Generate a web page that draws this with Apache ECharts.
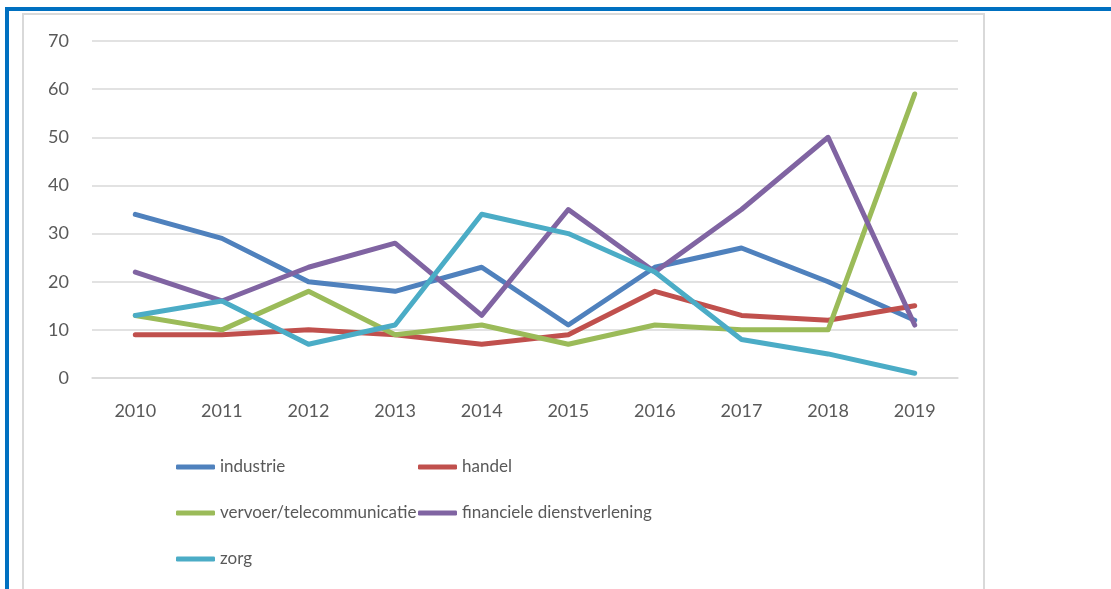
<!DOCTYPE html>
<html>
<head>
<meta charset="utf-8">
<script src="https://cdn.jsdelivr.net/npm/echarts@6/dist/echarts.min.js"></script>
<style>
  html, body { margin: 0; padding: 0; background: #fff; overflow: hidden; }
  #frame { position: absolute; left: 5px; top: 7px; width: 1200px; height: 700px;
           border-top: 4px solid #0070C0; border-left: 4px solid #0070C0; box-sizing: border-box; }
  #inner { position: absolute; left: 22px; top: 13px; width: 963px; height: 700px;
           border: 2px solid #D9D9D9; border-bottom: none; box-sizing: border-box; }
  #chart { position: absolute; left: 0; top: 0; width: 1111px; height: 589px; }
</style>
</head>
<body>
<div id="frame"></div>
<div id="inner"></div>
<div id="chart"></div>
<script>
const years = ['2010','2011','2012','2013','2014','2015','2016','2017','2018','2019'];
const industrie = [34, 29, 20, 18, 23, 11, 23, 27, 20, 12];
const handel = [9, 9, 10, 9, 7, 9, 18, 13, 12, 15];
const vervoer = [13, 10, 18, 9, 11, 7, 11, 10, 10, 59];
const financiele = [22, 16, 23, 28, 13, 35, 22, 35, 50, 11];
const zorg = [13, 16, 7, 11, 34, 30, 22, 8, 5, 1];
const names = ['industrie', 'handel', 'vervoer/telecommunicatie', 'financiele dienstverlening', 'zorg'];
const colors = ['#4F81BD', '#C0504D', '#9BBB59', '#8064A2', '#4BACC6'];

const chart = echarts.init(document.getElementById('chart'), null, { renderer: 'canvas' });
const font = 'Lato, "Open Sans", sans-serif';
const legendBase = {
  orient: 'vertical', top: 457, padding: 0, itemWidth: 39, itemHeight: 5, itemGap: 26,
  icon: 'roundRect', itemStyle: { borderWidth: 0 },
  textStyle: { color: '#595959', fontSize: 17, fontFamily: font, lineHeight: 20 },
  selectedMode: false
};
const series = [industrie, handel, vervoer, financiele, zorg].map((d, i) => ({
  name: names[i], type: 'line', data: d, symbol: 'none', smooth: false,
  lineStyle: { width: 5, color: colors[i], cap: 'round', join: 'round' },
  itemStyle: { color: colors[i] }
}));
chart.setOption({
  animation: false,
  backgroundColor: 'transparent',
  grid: { left: 92, right: 153, top: 41, bottom: 211 },
  legend: [
    Object.assign({}, legendBase, { left: 176, data: [names[0], names[2], names[4]] }),
    Object.assign({}, legendBase, { left: 418, data: [names[1], names[3]] })
  ],
  xAxis: {
    type: 'category', data: years, boundaryGap: true,
    axisLine: { lineStyle: { color: '#D9D9D9', width: 1.5 } },
    axisTick: { show: false },
    axisLabel: { color: '#595959', fontSize: 18, fontFamily: font, margin: 24 }
  },
  yAxis: {
    type: 'value', min: 0, max: 70, interval: 10,
    axisLine: { show: false }, axisTick: { show: false },
    splitLine: { lineStyle: { color: '#D9D9D9', width: 1.5 } },
    axisLabel: { color: '#595959', fontSize: 18, fontFamily: font, margin: 23 }
  },
  series: series
});
</script>
</body>
</html>
